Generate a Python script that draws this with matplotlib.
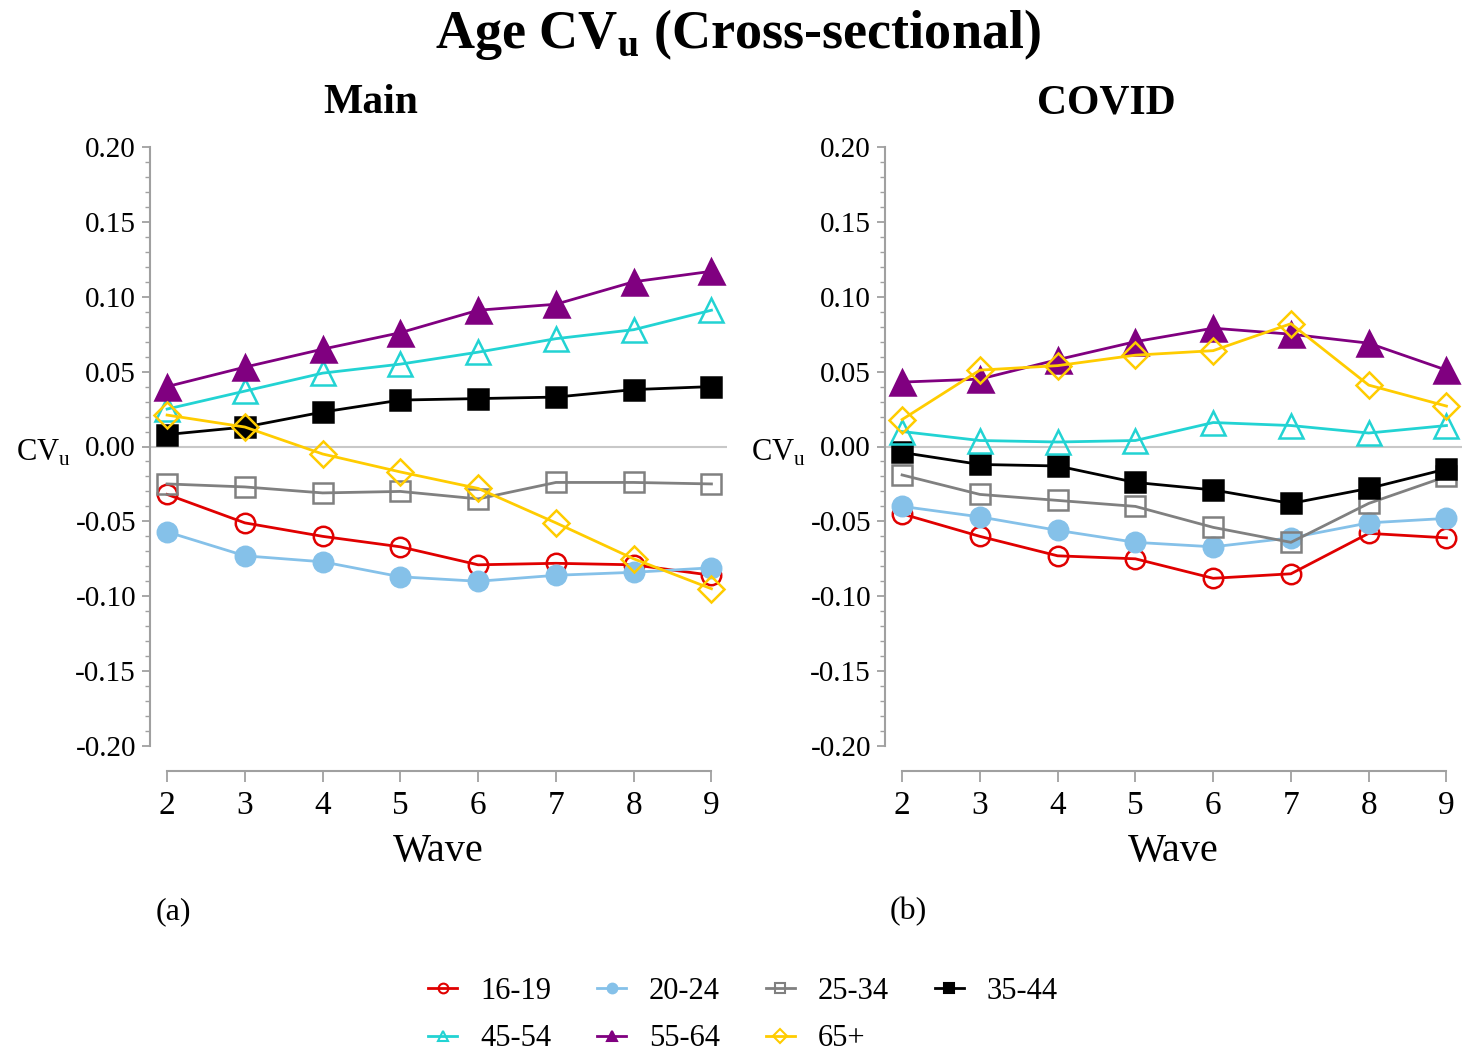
import matplotlib
matplotlib.use("Agg")
import matplotlib.pyplot as plt
from matplotlib.lines import Line2D
from matplotlib.ticker import MultipleLocator

plt.rcParams['font.family'] = ['Liberation Serif', 'DejaVu Serif']
plt.rcParams['mathtext.fontset'] = 'custom'
plt.rcParams['mathtext.rm'] = 'Liberation Serif'
plt.rcParams['mathtext.bf'] = 'Liberation Serif:bold'

waves = [2, 3, 4, 5, 6, 7, 8, 9]
groups = ["16-19", "20-24", "25-34", "35-44", "45-54", "55-64", "65+"]

# Main panel
main_16_19 = [-0.032, -0.051, -0.060, -0.067, -0.079, -0.078, -0.079, -0.086]
main_20_24 = [-0.057, -0.073, -0.077, -0.087, -0.090, -0.086, -0.084, -0.081]
main_25_34 = [-0.025, -0.027, -0.031, -0.030, -0.035, -0.024, -0.024, -0.025]
main_35_44 = [0.008, 0.013, 0.023, 0.031, 0.032, 0.033, 0.038, 0.040]
main_45_54 = [0.025, 0.037, 0.049, 0.055, 0.063, 0.072, 0.078, 0.091]
main_55_64 = [0.040, 0.053, 0.065, 0.076, 0.091, 0.095, 0.110, 0.117]
main_65p = [0.021, 0.013, -0.005, -0.017, -0.028, -0.051, -0.075, -0.095]

# COVID panel
covid_16_19 = [-0.045, -0.060, -0.073, -0.075, -0.088, -0.085, -0.058, -0.061]
covid_20_24 = [-0.040, -0.047, -0.056, -0.064, -0.067, -0.061, -0.051, -0.048]
covid_25_34 = [-0.019, -0.032, -0.036, -0.040, -0.054, -0.064, -0.038, -0.020]
covid_35_44 = [-0.004, -0.012, -0.013, -0.024, -0.029, -0.038, -0.028, -0.015]
covid_45_54 = [0.010, 0.004, 0.003, 0.004, 0.016, 0.014, 0.009, 0.014]
covid_55_64 = [0.043, 0.045, 0.058, 0.070, 0.079, 0.075, 0.069, 0.051]
covid_65p = [0.018, 0.051, 0.054, 0.061, 0.064, 0.082, 0.041, 0.027]

main_data = [main_16_19, main_20_24, main_25_34, main_35_44, main_45_54, main_55_64, main_65p]
covid_data = [covid_16_19, covid_20_24, covid_25_34, covid_35_44, covid_45_54, covid_55_64, covid_65p]

colors = ["#E00000", "#85C1E9", "#808080", "#000000", "#22D3D3", "#800080", "#FFCC00"]
markers = ["o", "o", "s", "s", "^", "^", "D"]
filled = [False, True, False, True, False, True, False]
msizes = [14, 14, 14, 15, 17, 18, 13.5]

fig = plt.figure(figsize=(14.62, 10.51), dpi=100)
W, H = 1462.0, 1051.0


def draw_panel(left_px, data):
    ax = fig.add_axes([left_px / W, (H - 746) / H, 577 / W, (746 - 147) / H])
    ax.axhline(0, color="#C8C8C8", lw=1.5, zorder=1)
    for vals, c, m, f, ms in zip(data, colors, markers, filled, msizes):
        ax.plot(waves, vals, color=c, lw=2.0, marker=m, markersize=ms,
                markerfacecolor=c if f else "none", markeredgecolor=c,
                markeredgewidth=1.8, zorder=3)
    ax.set_xlim(1.78, 9.2)
    ax.set_ylim(-0.2, 0.2)
    ax.set_xticks(waves)
    ax.set_yticks([-0.2, -0.15, -0.1, -0.05, 0, 0.05, 0.1, 0.15, 0.2])
    ax.set_yticklabels(["-0.20", "-0.15", "-0.10", "-0.05", "0.00",
                        "0.05", "0.10", "0.15", "0.20"])
    ax.yaxis.set_minor_locator(MultipleLocator(0.01))
    for s in ["top", "right"]:
        ax.spines[s].set_visible(False)
    ax.spines["bottom"].set_position(("outward", 18))
    ax.spines["bottom"].set_bounds(2, 9)
    ax.spines["left"].set_bounds(-0.2, 0.2)
    for s in ["left", "bottom"]:
        ax.spines[s].set_color("#A0A0A0")
        ax.spines[s].set_linewidth(1.5)
    ax.tick_params(axis="y", which="major", length=6, width=1.3, color="#A0A0A0",
                   labelsize=21, pad=4)
    ax.tick_params(axis="y", which="minor", length=3.5, width=1.0, color="#A0A0A0")
    ax.tick_params(axis="x", length=8, width=1.3, color="#A0A0A0", labelsize=24, pad=6)
    ax.set_xlabel("Wave", fontsize=29, labelpad=9)
    return ax


ax1 = draw_panel(150, main_data)
ax2 = draw_panel(885, covid_data)

fig.text(738 / W, 1 - 34 / H, r"Age CV$_\mathbf{u}$ (Cross-sectional)",
         fontsize=39, fontweight="bold", ha="center", va="center")
fig.text(371 / W, 1 - 103 / H, "Main", fontsize=30, fontweight="bold",
         ha="center", va="center")
fig.text(1106 / W, 1 - 103 / H, "COVID", fontsize=30, fontweight="bold",
         ha="center", va="center")
fig.text(43 / W, 1 - 453 / H, r"CV$_\mathregular{u}$", fontsize=22, ha="center", va="center")
fig.text(778 / W, 1 - 453 / H, r"CV$_\mathregular{u}$", fontsize=22, ha="center", va="center")
fig.text(173 / W, 1 - 912 / H, "(a)", fontsize=23, ha="center", va="center")
fig.text(908 / W, 1 - 912 / H, "(b)", fontsize=23, ha="center", va="center")

handles = []
for c, m, f in zip(colors, markers, filled):
    handles.append(Line2D([0], [0], color=c, lw=2.0, marker=m, markersize=7,
                          markerfacecolor=c if f else "none", markeredgecolor=c,
                          markeredgewidth=1.5))
order = [0, 4, 1, 5, 2, 6, 3]
fig.legend([handles[i] for i in order], [groups[i] for i in order],
           loc="center", bbox_to_anchor=(743 / W, 1 - 1015 / H), ncol=4,
           frameon=False, fontsize=22, handlelength=0.95, handletextpad=0.75,
           columnspacing=1.5, labelspacing=0.62)

fig.savefig("out.png", dpi=100)
